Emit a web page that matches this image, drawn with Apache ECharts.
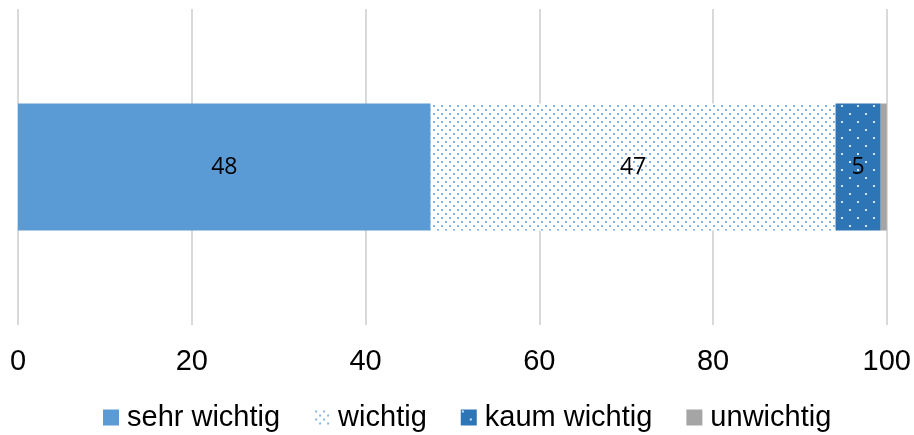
<!DOCTYPE html>
<html>
<head>
<meta charset="utf-8">
<script src="https://cdn.jsdelivr.net/npm/echarts@6/dist/echarts.min.js"></script>
<style>
  html, body { margin: 0; padding: 0; background: #fff; }
  #chart { width: 914px; height: 435px; }
</style>
</head>
<body>
<div id="chart"></div>
<script>
// Shares of answers (percent), one stacked bar
const categories = ['Gesamt'];
const seriesNames = ['sehr wichtig', 'wichtig', 'kaum wichtig', 'unwichtig'];
const sehrWichtig = [47.5];
const wichtig = [46.6];
const kaumWichtig = [5.2];
const unwichtig = [0.7];
const tickValues = [0, 20, 40, 60, 80, 100];

// Small tiled dot patterns used as fills
function dotPattern(bg, dotColor, size, dot) {
  const c = document.createElement('canvas');
  c.width = size; c.height = size;
  const g = c.getContext('2d');
  g.fillStyle = bg;
  g.fillRect(0, 0, size, size);
  g.fillStyle = dotColor;
  g.fillRect(1, 1, dot, dot);
  g.fillRect(size / 2 + 1, size / 2 + 1, dot, dot);
  return c;
}

const fillSehr = '#5B9BD5';
const fillWichtig = { image: dotPattern('#ffffff', '#86b4e2', 8, 2), repeat: 'repeat' };
const fillKaum = { image: dotPattern('#2E75B6', '#d6e4f2', 16, 2), repeat: 'repeat' };
const fillUn = '#A5A5A5';

const labelStyle = {
  show: true,
  position: 'inside',
  color: '#000',
  fontFamily: '"Open Sans", "Noto Sans", sans-serif',
  fontSize: 23,
  formatter: p => String(Math.round(p.value))
};

function barSeries(name, data, fill, showLabel) {
  return {
    name: name,
    type: 'bar',
    stack: 'total',
    data: data,
    barWidth: 127,
    itemStyle: { color: fill },
    label: showLabel ? labelStyle : { show: false },
    emphasis: { disabled: true },
    animation: false
  };
}

const chart = echarts.init(document.getElementById('chart'), null, { renderer: 'canvas' });
chart.setOption({
  animation: false,
  grid: { left: 18, right: 26, top: 9, bottom: 110, containLabel: false },
  xAxis: {
    type: 'value',
    min: tickValues[0],
    max: tickValues[tickValues.length - 1],
    interval: 20,
    axisLine: { show: false },
    axisTick: { show: false },
    splitLine: { show: true, lineStyle: { color: '#D9D9D9', width: 2 } },
    axisLabel: {
      color: '#000',
      fontFamily: '"Liberation Sans", Arial, sans-serif',
      fontSize: 29,
      margin: 22
    }
  },
  yAxis: {
    type: 'category',
    data: categories,
    show: false
  },
  legend: {
    data: seriesNames,
    left: 103,
    top: 403,
    padding: 0,
    itemWidth: 16,
    itemHeight: 16,
    itemGap: 34,
    icon: 'rect',
    textStyle: {
      color: '#000',
      fontFamily: '"Liberation Sans", Arial, sans-serif',
      fontSize: 29,
      padding: [0, 0, 0, 3]
    }
  },
  series: [
    barSeries(seriesNames[0], sehrWichtig, fillSehr, true),
    barSeries(seriesNames[1], wichtig, fillWichtig, true),
    barSeries(seriesNames[2], kaumWichtig, fillKaum, true),
    barSeries(seriesNames[3], unwichtig, fillUn, false)
  ]
});
</script>
</body>
</html>
